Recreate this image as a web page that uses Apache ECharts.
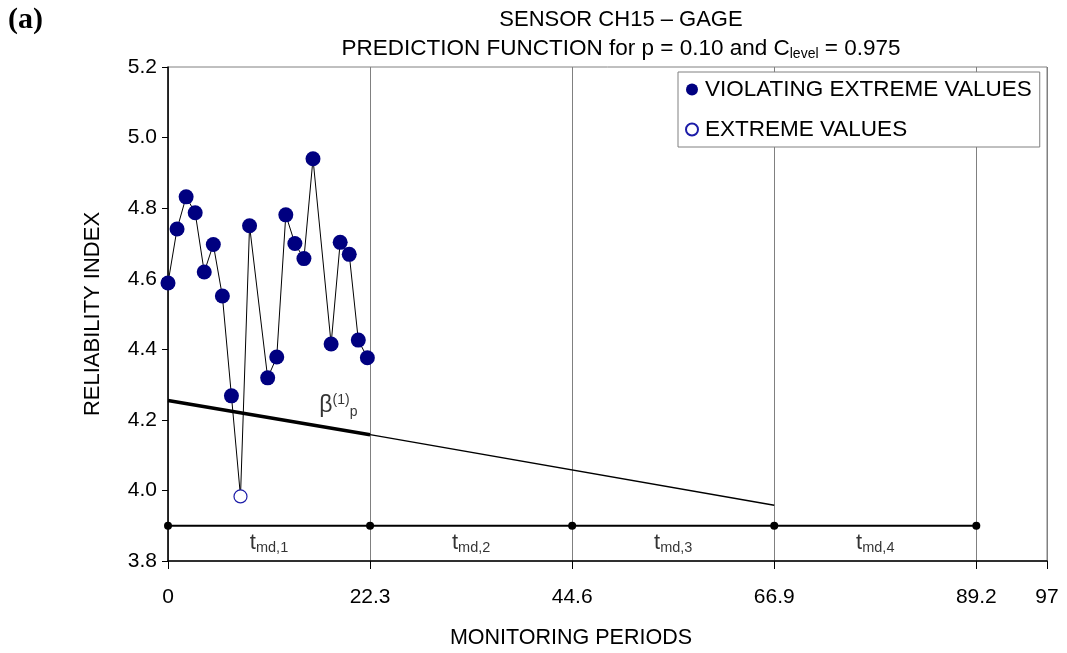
<!DOCTYPE html>
<html>
<head>
<meta charset="utf-8">
<script src="https://cdn.jsdelivr.net/npm/echarts@6/dist/echarts.min.js"></script>
<style>
html,body{margin:0;padding:0;background:#fff;}
#chart{width:1067px;height:653px;}
</style>
</head>
<body>
<div id="chart"></div>
<script>
// ---- data ----
const periods = [0, 1, 2, 3, 4, 5, 6, 7, 8, 9, 11, 12, 13, 14, 15, 16, 18, 19, 20, 21, 22];
const reliability = [4.588, 4.741, 4.832, 4.787, 4.619, 4.697, 4.551, 4.268, 3.983, 4.750, 4.319, 4.378, 4.781, 4.700, 4.657, 4.940, 4.415, 4.703, 4.669, 4.426, 4.376];
const extremeFlags = [0, 0, 0, 0, 0, 0, 0, 0, 1, 0, 0, 0, 0, 0, 0, 0, 0, 0, 0, 0, 0]; // 1 = non-violating extreme value
const periodBounds = [0, 22.3, 44.6, 66.9, 89.2];
const periodLabels = ['md,1', 'md,2', 'md,3', 'md,4'];
const timeLineLevel = 3.9;
const betaThickX = [0, 22.3];
const betaThickY = [4.255, 4.158];
const betaThinX = [22.3, 66.9];
const betaThinY = [4.158, 3.958];
const xTicks = [0, 22.3, 44.6, 66.9, 89.2, 97];
const yTicks = [3.8, 4.0, 4.2, 4.4, 4.6, 4.8, 5.0, 5.2];

const FONT = '"Liberation Sans", Arial, sans-serif';

const allPts = periods.map((x, i) => [x, reliability[i]]);
const violating = allPts.filter((p, i) => !extremeFlags[i]);
const extreme = allPts.filter((p, i) => extremeFlags[i]);
const timeLine = periodBounds.map(x => [x, timeLineLevel]);
const tmdPts = periodLabels.map((s, i) => ({ value: [(periodBounds[i] + periodBounds[i + 1]) / 2, 3.85], sub: s }));

const chart = echarts.init(document.getElementById('chart'));
chart.setOption({
  animation: false,
  backgroundColor: '#fff',
  textStyle: { fontFamily: FONT },
  grid: { left: 168, right: 20, top: 67, bottom: 92, show: true, borderColor: '#808080', borderWidth: 1 },
  graphic: [
    { type: 'text', left: 8, top: 5, style: { text: '(a)', font: 'bold 30px "Liberation Serif", serif', fill: '#000' } },
    { type: 'text', x: 621, y: 20, style: { text: 'SENSOR CH15 – GAGE', fontSize: 22, fontFamily: FONT, fill: '#000', align: 'center', verticalAlign: 'middle' } },
    { type: 'text', x: 621, y: 49, style: { text: 'PREDICTION FUNCTION for p = 0.10 and C{s|level} = 0.975', fontSize: 22.5, fontFamily: FONT, fill: '#000', align: 'center', verticalAlign: 'middle',
        rich: { s: { fontSize: 14, fontFamily: FONT, padding: [11, 0, 0, 0] } } } },
    { type: 'text', x: 571, y: 638, style: { text: 'MONITORING PERIODS', fontSize: 21.5, fontFamily: FONT, fill: '#000', align: 'center', verticalAlign: 'middle' } }
  ],
  legend: {
    orient: 'vertical', left: 678, top: 72,
    data: ['VIOLATING EXTREME VALUES', 'EXTREME VALUES'],
    itemWidth: 12, itemHeight: 12, itemGap: 17,
    padding: [6, 8, 6, 7],
    borderColor: '#808080', borderWidth: 1, backgroundColor: '#fff',
    textStyle: { fontSize: 22.5, fontFamily: FONT, color: '#000', padding: [0, 0, 0, 2] }
  },
  xAxis: {
    type: 'value', min: 0, max: 97, interval: 22.3,
    axisLine: { show: true, onZero: false, lineStyle: { color: '#000', width: 1.5 } },
    axisTick: { show: true, length: 8, lineStyle: { color: '#000' } },
    axisLabel: { fontSize: 21, color: '#000', margin: 26, fontFamily: FONT, showMaxLabel: true,
      formatter: v => String(+v.toFixed(1)) },
    splitLine: { show: true, lineStyle: { color: '#808080', width: 1 } }
  },
  yAxis: {
    type: 'value', min: 3.8, max: 5.2, interval: 0.2,
    name: 'RELIABILITY INDEX', nameLocation: 'middle', nameGap: 64, nameRotate: 90,
    nameTextStyle: { fontSize: 22, color: '#000', fontFamily: FONT },
    axisLine: { show: true, onZero: false, lineStyle: { color: '#000', width: 1.5 } },
    axisTick: { show: true, length: 6, lineStyle: { color: '#000' } },
    axisLabel: { fontSize: 21, color: '#000', margin: 11, fontFamily: FONT, formatter: v => v.toFixed(1) },
    splitLine: { show: false }
  },
  series: [
    { name: 'conn', type: 'line', data: allPts, symbol: 'none', lineStyle: { color: '#000', width: 1 }, z: 2, silent: true },
    { name: 'timeline', type: 'line', data: timeLine, symbol: 'circle', symbolSize: 8,
      itemStyle: { color: '#000' }, lineStyle: { color: '#000', width: 2 }, z: 3, silent: true },
    { name: 'betaThick', type: 'line', data: betaThickX.map((x, i) => [x, betaThickY[i]]), symbol: 'none',
      lineStyle: { color: '#000', width: 3.5 }, z: 3, silent: true },
    { name: 'betaThin', type: 'line', data: betaThinX.map((x, i) => [x, betaThinY[i]]), symbol: 'none',
      lineStyle: { color: '#000', width: 1.3 }, z: 3, silent: true },
    { name: 'VIOLATING EXTREME VALUES', type: 'scatter', data: violating, symbol: 'circle', symbolSize: 15,
      itemStyle: { color: '#000080', opacity: 1 }, z: 5 },
    { name: 'EXTREME VALUES', type: 'scatter', data: extreme, symbol: 'circle', symbolSize: 13,
      itemStyle: { color: '#fff', borderColor: '#1c1ca8', borderWidth: 1.2, opacity: 1 }, z: 5 },
    { name: 'betaLabel', type: 'scatter', data: [[18.8, 4.24]], symbolSize: 0, silent: true, z: 6,
      label: { show: true, position: 'inside', formatter: '{g|β}{sup|(1)}{sub|p}',
        rich: {
          g: { fontSize: 23, fontFamily: FONT, color: '#000' },
          sup: { fontSize: 14, fontFamily: FONT, color: '#000', padding: [0, 0, 12, 0] },
          sub: { fontSize: 14, fontFamily: FONT, color: '#000', padding: [12, 0, 0, 0] }
        } } },
    { name: 'tmd', type: 'scatter', data: tmdPts, symbolSize: 0, silent: true, z: 6,
      label: { show: true, position: 'inside', formatter: p => '{t|t}{s|' + p.data.sub + '}',
        rich: {
          t: { fontSize: 22, fontFamily: FONT, color: '#000' },
          s: { fontSize: 14.5, fontFamily: FONT, color: '#000', padding: [10, 0, 0, 0] }
        } } }
  ]
});
</script>
</body>
</html>
